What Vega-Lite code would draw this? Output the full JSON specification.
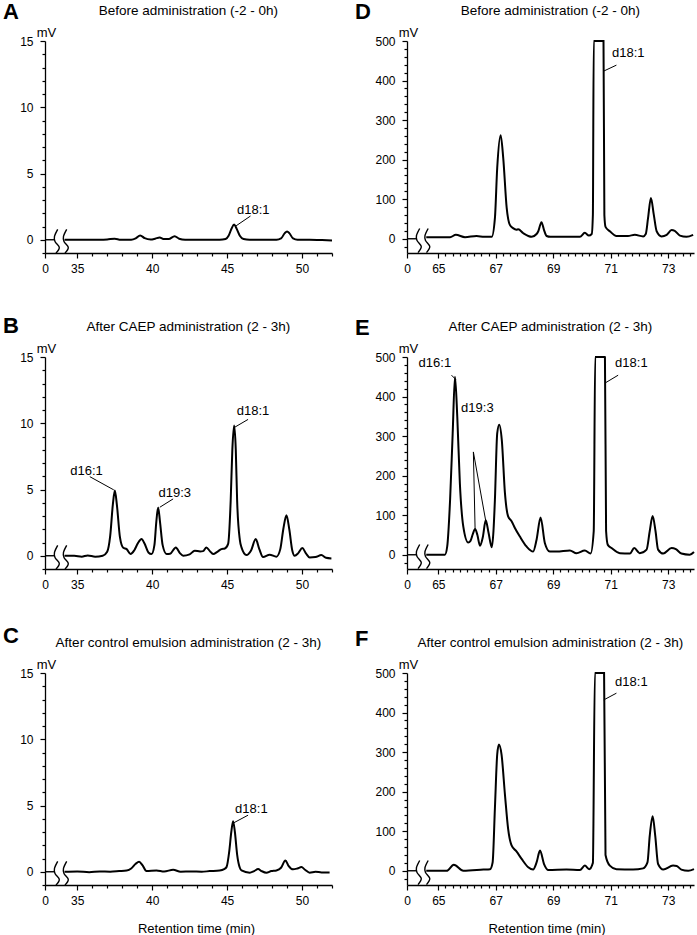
{
"$schema": "https://vega.github.io/schema/vega-lite/v6.json",
"autosize": {"type": "pad"},
"padding": {"left": 3, "top": 0, "right": 0, "bottom": 0},
"background": "white",
"columns": 2,
"spacing": {"row": 104, "column": 75},
"bounds": "flush",
"datasets": {
"A": [{"t":34.15,"mv":0},{"t":35.5,"mv":0},{"t":36.5,"mv":0},{"t":37.0,"mv":0.02},{"t":37.5,"mv":0.08},{"t":37.9,"mv":0.0},{"t":38.6,"mv":0.0},{"t":38.9,"mv":0.1},{"t":39.2,"mv":0.33},{"t":39.5,"mv":0.12},{"t":39.9,"mv":0.02},{"t":40.2,"mv":0.08},{"t":40.5,"mv":0.17},{"t":40.8,"mv":0.05},{"t":41.1,"mv":0.05},{"t":41.5,"mv":0.27},{"t":41.8,"mv":0.08},{"t":42.2,"mv":0.0},{"t":43.5,"mv":0.0},{"t":44.5,"mv":0.0},{"t":44.9,"mv":0.05},{"t":45.1,"mv":0.3},{"t":45.3,"mv":0.85},{"t":45.47,"mv":1.15},{"t":45.65,"mv":0.8},{"t":45.85,"mv":0.3},{"t":46.1,"mv":0.05},{"t":46.5,"mv":0.0},{"t":47.5,"mv":0.0},{"t":48.3,"mv":0.0},{"t":48.6,"mv":0.1},{"t":48.85,"mv":0.5},{"t":49.0,"mv":0.62},{"t":49.15,"mv":0.5},{"t":49.4,"mv":0.1},{"t":49.7,"mv":0.0},{"t":50.5,"mv":0.0},{"t":51.2,"mv":-0.02},{"t":52,"mv":-0.05}],
"B": [{"t":34.15,"mv":0},{"t":34.8,"mv":0},{"t":35.3,"mv":-0.07},{"t":35.7,"mv":0.02},{"t":36.2,"mv":-0.07},{"t":36.7,"mv":0},{"t":37.0,"mv":0.3},{"t":37.2,"mv":1.5},{"t":37.38,"mv":3.9},{"t":37.51,"mv":4.92},{"t":37.65,"mv":3.8},{"t":37.85,"mv":1.4},{"t":38.07,"mv":0.6},{"t":38.3,"mv":0.5},{"t":38.56,"mv":0.13},{"t":38.8,"mv":0.4},{"t":39.05,"mv":0.95},{"t":39.29,"mv":1.26},{"t":39.5,"mv":0.9},{"t":39.75,"mv":0.25},{"t":39.96,"mv":0.13},{"t":40.15,"mv":0.8},{"t":40.28,"mv":2.6},{"t":40.4,"mv":3.65},{"t":40.52,"mv":2.6},{"t":40.7,"mv":0.8},{"t":40.96,"mv":0.13},{"t":41.2,"mv":0.15},{"t":41.58,"mv":0.63},{"t":41.85,"mv":0.2},{"t":42.07,"mv":0},{"t":42.5,"mv":0.1},{"t":42.84,"mv":0.38},{"t":43.2,"mv":0.33},{"t":43.4,"mv":0.35},{"t":43.62,"mv":0.63},{"t":43.85,"mv":0.35},{"t":44.07,"mv":0.13},{"t":44.35,"mv":0.3},{"t":44.62,"mv":0.5},{"t":44.85,"mv":0.55},{"t":45.07,"mv":0.9},{"t":45.24,"mv":4.16},{"t":45.35,"mv":8.0},{"t":45.47,"mv":9.83},{"t":45.58,"mv":8.0},{"t":45.67,"mv":4.16},{"t":45.85,"mv":1.2},{"t":45.96,"mv":0.63},{"t":46.29,"mv":0.05},{"t":46.6,"mv":0.4},{"t":46.91,"mv":1.26},{"t":47.15,"mv":0.5},{"t":47.4,"mv":-0.1},{"t":47.84,"mv":0.08},{"t":48.29,"mv":-0.07},{"t":48.55,"mv":0.5},{"t":48.75,"mv":2.0},{"t":48.96,"mv":3.05},{"t":49.15,"mv":2.0},{"t":49.35,"mv":0.4},{"t":49.51,"mv":0.0},{"t":49.75,"mv":0.2},{"t":50.02,"mv":0.58},{"t":50.25,"mv":0.2},{"t":50.51,"mv":-0.13},{"t":50.9,"mv":-0.1},{"t":51.29,"mv":0.05},{"t":51.6,"mv":-0.15},{"t":51.96,"mv":-0.2}],
"C": [{"t":34.15,"mv":0},{"t":35.0,"mv":0.02},{"t":35.8,"mv":-0.03},{"t":36.5,"mv":0.02},{"t":37.2,"mv":0.0},{"t":37.8,"mv":0.05},{"t":38.3,"mv":0.1},{"t":38.6,"mv":0.25},{"t":38.9,"mv":0.6},{"t":39.13,"mv":0.75},{"t":39.35,"mv":0.5},{"t":39.62,"mv":0.05},{"t":40.29,"mv":0.1},{"t":40.8,"mv":0.02},{"t":41.4,"mv":0.15},{"t":41.9,"mv":0.0},{"t":42.6,"mv":0.02},{"t":43.3,"mv":0.0},{"t":43.84,"mv":0.05},{"t":44.5,"mv":0.1},{"t":44.8,"mv":0.2},{"t":44.96,"mv":0.35},{"t":45.15,"mv":1.6},{"t":45.28,"mv":3.0},{"t":45.4,"mv":3.82},{"t":45.52,"mv":3.0},{"t":45.67,"mv":1.3},{"t":45.85,"mv":0.3},{"t":45.96,"mv":0.1},{"t":46.51,"mv":-0.07},{"t":46.8,"mv":0.05},{"t":47.07,"mv":0.2},{"t":47.3,"mv":0.05},{"t":47.62,"mv":-0.07},{"t":47.95,"mv":0.05},{"t":48.29,"mv":0.1},{"t":48.6,"mv":0.3},{"t":48.89,"mv":0.85},{"t":49.1,"mv":0.45},{"t":49.4,"mv":0.18},{"t":49.7,"mv":0.25},{"t":49.96,"mv":0.35},{"t":50.2,"mv":0.15},{"t":50.51,"mv":-0.07},{"t":50.9,"mv":0.0},{"t":51.3,"mv":-0.05},{"t":51.84,"mv":-0.05}],
"D": [{"t":64.58,"mv":4},{"t":65.41,"mv":4},{"t":65.61,"mv":10},{"t":65.93,"mv":4},{"t":66.33,"mv":7},{"t":66.6,"mv":5},{"t":66.86,"mv":5},{"t":66.97,"mv":52},{"t":67.05,"mv":179},{"t":67.17,"mv":262},{"t":67.26,"mv":204},{"t":67.38,"mv":78},{"t":67.49,"mv":35},{"t":67.6,"mv":27},{"t":67.72,"mv":23},{"t":67.78,"mv":24},{"t":67.96,"mv":14},{"t":68.25,"mv":5},{"t":68.42,"mv":12},{"t":68.48,"mv":19},{"t":68.59,"mv":42},{"t":68.68,"mv":22},{"t":68.77,"mv":7},{"t":68.9,"mv":5},{"t":69.3,"mv":5},{"t":69.93,"mv":5},{"t":70.1,"mv":15},{"t":70.24,"mv":8},{"t":70.34,"mv":12},{"t":70.38,"mv":60},{"t":70.41,"mv":500},{"t":70.75,"mv":500},{"t":70.78,"mv":60},{"t":70.82,"mv":30},{"t":70.97,"mv":19},{"t":71.2,"mv":7},{"t":71.6,"mv":7},{"t":71.84,"mv":10},{"t":72.13,"mv":6},{"t":72.22,"mv":12},{"t":72.3,"mv":52},{"t":72.4,"mv":103},{"t":72.5,"mv":61},{"t":72.6,"mv":19},{"t":72.77,"mv":6},{"t":72.95,"mv":10},{"t":73.12,"mv":22},{"t":73.23,"mv":20},{"t":73.41,"mv":8},{"t":73.64,"mv":5},{"t":73.87,"mv":10}],
"E": [{"t":64.58,"mv":0},{"t":65.23,"mv":0},{"t":65.31,"mv":21},{"t":65.41,"mv":139},{"t":65.5,"mv":307},{"t":65.58,"mv":450},{"t":65.66,"mv":349},{"t":65.75,"mv":181},{"t":65.87,"mv":71},{"t":66.04,"mv":31},{"t":66.12,"mv":35},{"t":66.2,"mv":52},{"t":66.28,"mv":65},{"t":66.36,"mv":50},{"t":66.45,"mv":23},{"t":66.55,"mv":45},{"t":66.65,"mv":87},{"t":66.75,"mv":55},{"t":66.86,"mv":19},{"t":66.92,"mv":60},{"t":66.97,"mv":139},{"t":67.05,"mv":307},{"t":67.12,"mv":329},{"t":67.21,"mv":290},{"t":67.32,"mv":155},{"t":67.43,"mv":97},{"t":67.55,"mv":85},{"t":67.67,"mv":67},{"t":67.84,"mv":46},{"t":68.07,"mv":21},{"t":68.3,"mv":8},{"t":68.42,"mv":38},{"t":68.56,"mv":94},{"t":68.71,"mv":29},{"t":68.88,"mv":8},{"t":69.12,"mv":8},{"t":69.58,"mv":11},{"t":69.81,"mv":4},{"t":70.1,"mv":11},{"t":70.3,"mv":3},{"t":70.41,"mv":60},{"t":70.46,"mv":500},{"t":70.8,"mv":500},{"t":70.84,"mv":60},{"t":70.9,"mv":25},{"t":71.03,"mv":17},{"t":71.32,"mv":4},{"t":71.67,"mv":3},{"t":71.82,"mv":17},{"t":72.01,"mv":4},{"t":72.25,"mv":13},{"t":72.36,"mv":60},{"t":72.46,"mv":98},{"t":72.56,"mv":60},{"t":72.65,"mv":13},{"t":72.83,"mv":3},{"t":73.12,"mv":17},{"t":73.27,"mv":14},{"t":73.46,"mv":3},{"t":73.75,"mv":0},{"t":73.9,"mv":7}],
"F": [{"t":64.58,"mv":0},{"t":65.29,"mv":0},{"t":65.54,"mv":15},{"t":65.87,"mv":0},{"t":66.57,"mv":3},{"t":66.8,"mv":4},{"t":66.89,"mv":21},{"t":66.97,"mv":158},{"t":67.05,"mv":294},{"t":67.11,"mv":319},{"t":67.2,"mv":294},{"t":67.32,"mv":192},{"t":67.43,"mv":106},{"t":67.55,"mv":64},{"t":67.72,"mv":49},{"t":67.9,"mv":30},{"t":68.13,"mv":9},{"t":68.3,"mv":3},{"t":68.42,"mv":21},{"t":68.54,"mv":51},{"t":68.68,"mv":17},{"t":68.83,"mv":2},{"t":69.46,"mv":3},{"t":69.93,"mv":2},{"t":70.1,"mv":13},{"t":70.25,"mv":4},{"t":70.38,"mv":20},{"t":70.45,"mv":500},{"t":70.77,"mv":500},{"t":70.82,"mv":40},{"t":70.97,"mv":13},{"t":71.2,"mv":4},{"t":71.78,"mv":3},{"t":72.13,"mv":6},{"t":72.28,"mv":21},{"t":72.36,"mv":89},{"t":72.46,"mv":138},{"t":72.55,"mv":89},{"t":72.65,"mv":17},{"t":72.83,"mv":3},{"t":73.17,"mv":13},{"t":73.3,"mv":12},{"t":73.46,"mv":3},{"t":73.7,"mv":0},{"t":73.9,"mv":4}],
"breakL": [{"part":"base","t":32.85,"mv":0},{"part":"base","t":33.52,"mv":0},{"part":"c1","t":33.697,"mv":0.78},{"part":"c1","t":33.483,"mv":0.25},{"part":"c1","t":33.517,"mv":-0.13},{"part":"c1","t":33.803,"mv":-0.58},{"part":"c1","t":33.583,"mv":-1.0},{"part":"c2","t":34.297,"mv":0.78},{"part":"c2","t":34.083,"mv":0.25},{"part":"c2","t":34.117,"mv":-0.13},{"part":"c2","t":34.403,"mv":-0.58},{"part":"c2","t":34.183,"mv":-1.0}],
"breakR": [{"part":"base","t":63.91,"mv":0},{"part":"base","t":64.26,"mv":0},{"part":"c1","t":64.352,"mv":26},{"part":"c1","t":64.24,"mv":8.3},{"part":"c1","t":64.258,"mv":-4.3},{"part":"c1","t":64.407,"mv":-19.5},{"part":"c1","t":64.293,"mv":-35},{"part":"c2","t":64.647,"mv":26},{"part":"c2","t":64.536,"mv":8.3},{"part":"c2","t":64.554,"mv":-4.3},{"part":"c2","t":64.703,"mv":-19.5},{"part":"c2","t":64.589,"mv":-35}]
},
"concat": [
{"width": 287, "height": 212, "resolve": {"axis": {"x": "independent", "y": "independent"}}, "layer": [
 {"data": {"name": "A"}, "mark": {"type": "line", "interpolate": "monotone", "color": "#000", "strokeWidth": 2},
  "encoding": {"x": {"field": "t", "type": "quantitative", "scale": {"domain": [32.85, 52], "nice": false, "zero": false}, "axis": {"orient": "bottom", "values": [32.85,35,40,45,50], "labelExpr": "datum.value < 34 ? '0' : datum.label", "tickSize": 5, "labelOverlap": false, "title": null}},
   "y": {"field": "mv", "type": "quantitative", "scale": {"domain": [-1, 15], "nice": false, "zero": false}, "axis": {"orient": "left", "values": [0,5,10,15], "tickSize": 5, "labelOverlap": false, "title": "mV"}}}},
 {"data": {"name": "breakL"}, "mark": {"type": "line", "interpolate": "cardinal", "color": "#000", "strokeWidth": 1.4},
  "encoding": {"x": {"field": "t", "type": "quantitative", "axis": {"orient": "bottom", "values": [36,37,38,39,41,42,43,44,46,47,48,49,51,52], "labels": false, "domain": false, "tickSize": 3, "title": null}}, "y": {"field": "mv", "type": "quantitative", "axis": {"orient": "left", "values": [-1,1,2,3,4,6,7,8,9,11,12,13,14], "labels": false, "domain": false, "tickSize": 3, "title": null}}, "detail": {"field": "part"}, "order": {"value": null}}},
 {"data": {"values": [{"t": 45.6, "mv": 1.05, "t2": 46.56, "mv2": 1.79}]}, "mark": {"type": "rule", "color": "#000", "strokeWidth": 1},
  "encoding": {"x": {"field": "t", "type": "quantitative", "axis": null}, "y": {"field": "mv", "type": "quantitative", "axis": null}, "x2": {"field": "t2"}, "y2": {"field": "mv2"}}},
 {"data": {"values": [{"t": 46.75, "mv": 1.92, "label": "d18:1"}]}, "mark": {"type": "text"},
  "encoding": {"x": {"field": "t", "type": "quantitative", "axis": null}, "y": {"field": "mv", "type": "quantitative", "axis": null}, "text": {"field": "label"}}},
 {"data": {"values": [{}]}, "mark": {"type": "text", "fontSize": 22, "fontWeight": "bold", "align": "left", "baseline": "top"},
  "encoding": {"x": {"datum": 30.05, "type": "quantitative", "axis": null}, "y": {"datum": 17.97, "type": "quantitative", "axis": null}, "text": {"value": "A"}}},
 {"data": {"values": [{}]}, "mark": {"type": "text", "fontSize": 13.5},
  "encoding": {"x": {"datum": 42.42, "type": "quantitative", "axis": null}, "y": {"datum": 16.96, "type": "quantitative", "axis": null}, "text": {"value": "Before administration (-2 - 0h)"}}}
]},
{"width": 287, "height": 212, "resolve": {"axis": {"x": "independent", "y": "independent"}}, "layer": [
 {"data": {"name": "D"}, "mark": {"type": "line", "interpolate": "monotone", "color": "#000", "strokeWidth": 2},
  "encoding": {"x": {"field": "t", "type": "quantitative", "scale": {"domain": [63.91, 73.9], "nice": false, "zero": false}, "axis": {"orient": "bottom", "values": [63.91,65,67,69,71,73], "labelExpr": "datum.value < 64.5 ? '0' : datum.label", "tickSize": 5, "labelOverlap": false, "title": null}},
   "y": {"field": "mv", "type": "quantitative", "scale": {"domain": [-36, 500], "nice": false, "zero": false}, "axis": {"orient": "left", "values": [0,100,200,300,400,500], "tickSize": 5, "labelOverlap": false, "title": "mV"}}}},
 {"data": {"name": "breakR"}, "mark": {"type": "line", "interpolate": "cardinal", "color": "#000", "strokeWidth": 1.4},
  "encoding": {"x": {"field": "t", "type": "quantitative", "axis": {"orient": "bottom", "values": [65.25,65.5,65.75,66,66.25,66.5,66.75,67.25,67.5,67.75,68,68.25,68.5,68.75,69.25,69.5,69.75,70,70.25,70.5,70.75,71.25,71.5,71.75,72,72.25,72.5,72.75,73.25,73.5,73.75], "labels": false, "domain": false, "tickSize": 3, "title": null}}, "y": {"field": "mv", "type": "quantitative", "axis": {"orient": "left", "values": [-20,20,40,60,80,120,140,160,180,220,240,260,280,320,340,360,380,420,440,460,480], "labels": false, "domain": false, "tickSize": 3, "title": null}}, "detail": {"field": "part"}, "order": {"value": null}}},
 {"data": {"values": [{"t": 70.76, "mv": 424, "t2": 71.2, "mv2": 439}]}, "mark": {"type": "rule", "color": "#000", "strokeWidth": 1},
  "encoding": {"x": {"field": "t", "type": "quantitative", "axis": null}, "y": {"field": "mv", "type": "quantitative", "axis": null}, "x2": {"field": "t2"}, "y2": {"field": "mv2"}}},
 {"data": {"values": [{"t": 71.61, "mv": 459, "label": "d18:1"}]}, "mark": {"type": "text"},
  "encoding": {"x": {"field": "t", "type": "quantitative", "axis": null}, "y": {"field": "mv", "type": "quantitative", "axis": null}, "text": {"field": "label"}}},
 {"data": {"values": [{}]}, "mark": {"type": "text", "fontSize": 22, "fontWeight": "bold", "align": "left", "baseline": "top"},
  "encoding": {"x": {"datum": 62.1, "type": "quantitative", "axis": null}, "y": {"datum": 599.6, "type": "quantitative", "axis": null}, "text": {"value": "D"}}},
 {"data": {"values": [{}]}, "mark": {"type": "text", "fontSize": 13.5},
  "encoding": {"x": {"datum": 68.9, "type": "quantitative", "axis": null}, "y": {"datum": 565.7, "type": "quantitative", "axis": null}, "text": {"value": "Before administration (-2 - 0h)"}}}
]},
{"width": 287, "height": 212, "resolve": {"axis": {"x": "independent", "y": "independent"}}, "layer": [
 {"data": {"name": "B"}, "mark": {"type": "line", "interpolate": "monotone", "color": "#000", "strokeWidth": 2},
  "encoding": {"x": {"field": "t", "type": "quantitative", "scale": {"domain": [32.85, 52], "nice": false, "zero": false}, "axis": {"orient": "bottom", "values": [32.85,35,40,45,50], "labelExpr": "datum.value < 34 ? '0' : datum.label", "tickSize": 5, "labelOverlap": false, "title": null}},
   "y": {"field": "mv", "type": "quantitative", "scale": {"domain": [-1, 15], "nice": false, "zero": false}, "axis": {"orient": "left", "values": [0,5,10,15], "tickSize": 5, "labelOverlap": false, "title": "mV"}}}},
 {"data": {"name": "breakL"}, "mark": {"type": "line", "interpolate": "cardinal", "color": "#000", "strokeWidth": 1.4},
  "encoding": {"x": {"field": "t", "type": "quantitative", "axis": {"orient": "bottom", "values": [36,37,38,39,41,42,43,44,46,47,48,49,51,52], "labels": false, "domain": false, "tickSize": 3, "title": null}}, "y": {"field": "mv", "type": "quantitative", "axis": {"orient": "left", "values": [-1,1,2,3,4,6,7,8,9,11,12,13,14], "labels": false, "domain": false, "tickSize": 3, "title": null}}, "detail": {"field": "part"}, "order": {"value": null}}},
 {"data": {"values": [{"t": 35.84, "mv": 5.97, "t2": 37.44, "mv2": 4.97}, {"t": 40.51, "mv": 3.66, "t2": 41.4, "mv2": 4.29}, {"t": 45.51, "mv": 9.7, "t2": 46.4, "mv2": 10.29}]}, "mark": {"type": "rule", "color": "#000", "strokeWidth": 1},
  "encoding": {"x": {"field": "t", "type": "quantitative", "axis": null}, "y": {"field": "mv", "type": "quantitative", "axis": null}, "x2": {"field": "t2"}, "y2": {"field": "mv2"}}},
 {"data": {"values": [{"t": 35.62, "mv": 6.1, "label": "d16:1"}, {"t": 41.51, "mv": 4.45, "label": "d19:3"}, {"t": 46.73, "mv": 10.6, "label": "d18:1"}]}, "mark": {"type": "text"},
  "encoding": {"x": {"field": "t", "type": "quantitative", "axis": null}, "y": {"field": "mv", "type": "quantitative", "axis": null}, "text": {"field": "label"}}},
 {"data": {"values": [{}]}, "mark": {"type": "text", "fontSize": 22, "fontWeight": "bold", "align": "left", "baseline": "top"},
  "encoding": {"x": {"datum": 30.05, "type": "quantitative", "axis": null}, "y": {"datum": 18.12, "type": "quantitative", "axis": null}, "text": {"value": "B"}}},
 {"data": {"values": [{}]}, "mark": {"type": "text", "fontSize": 13.5},
  "encoding": {"x": {"datum": 42.42, "type": "quantitative", "axis": null}, "y": {"datum": 16.96, "type": "quantitative", "axis": null}, "text": {"value": "After CAEP administration (2 - 3h)"}}}
]},
{"width": 287, "height": 212, "resolve": {"axis": {"x": "independent", "y": "independent"}}, "layer": [
 {"data": {"name": "E"}, "mark": {"type": "line", "interpolate": "monotone", "color": "#000", "strokeWidth": 2},
  "encoding": {"x": {"field": "t", "type": "quantitative", "scale": {"domain": [63.91, 73.9], "nice": false, "zero": false}, "axis": {"orient": "bottom", "values": [63.91,65,67,69,71,73], "labelExpr": "datum.value < 64.5 ? '0' : datum.label", "tickSize": 5, "labelOverlap": false, "title": null}},
   "y": {"field": "mv", "type": "quantitative", "scale": {"domain": [-36, 500], "nice": false, "zero": false}, "axis": {"orient": "left", "values": [0,100,200,300,400,500], "tickSize": 5, "labelOverlap": false, "title": "mV"}}}},
 {"data": {"name": "breakR"}, "mark": {"type": "line", "interpolate": "cardinal", "color": "#000", "strokeWidth": 1.4},
  "encoding": {"x": {"field": "t", "type": "quantitative", "axis": {"orient": "bottom", "values": [65.25,65.5,65.75,66,66.25,66.5,66.75,67.25,67.5,67.75,68,68.25,68.5,68.75,69.25,69.5,69.75,70,70.25,70.5,70.75,71.25,71.5,71.75,72,72.25,72.5,72.75,73.25,73.5,73.75], "labels": false, "domain": false, "tickSize": 3, "title": null}}, "y": {"field": "mv", "type": "quantitative", "axis": {"orient": "left", "values": [-20,20,40,60,80,120,140,160,180,220,240,260,280,320,340,360,380,420,440,460,480], "labels": false, "domain": false, "tickSize": 3, "title": null}}, "detail": {"field": "part"}, "order": {"value": null}}},
 {"data": {"values": [{"t": 65.46, "mv": 454, "t2": 65.61, "mv2": 443}, {"t": 66.22, "mv": 260, "t2": 66.28, "mv2": 66}, {"t": 66.22, "mv": 260, "t2": 66.65, "mv2": 86}, {"t": 70.8, "mv": 434, "t2": 71.26, "mv2": 454}]}, "mark": {"type": "rule", "color": "#000", "strokeWidth": 1},
  "encoding": {"x": {"field": "t", "type": "quantitative", "axis": null}, "y": {"field": "mv", "type": "quantitative", "axis": null}, "x2": {"field": "t2"}, "y2": {"field": "mv2"}}},
 {"data": {"values": [{"t": 64.88, "mv": 475, "label": "d16:1"}, {"t": 66.36, "mv": 362, "label": "d19:3"}, {"t": 71.72, "mv": 475, "label": "d18:1"}]}, "mark": {"type": "text"},
  "encoding": {"x": {"field": "t", "type": "quantitative", "axis": null}, "y": {"field": "mv", "type": "quantitative", "axis": null}, "text": {"field": "label"}}},
 {"data": {"values": [{}]}, "mark": {"type": "text", "fontSize": 22, "fontWeight": "bold", "align": "left", "baseline": "top"},
  "encoding": {"x": {"datum": 62.1, "type": "quantitative", "axis": null}, "y": {"datum": 599.6, "type": "quantitative", "axis": null}, "text": {"value": "E"}}},
 {"data": {"values": [{}]}, "mark": {"type": "text", "fontSize": 13.5},
  "encoding": {"x": {"datum": 68.9, "type": "quantitative", "axis": null}, "y": {"datum": 565.7, "type": "quantitative", "axis": null}, "text": {"value": "After CAEP administration (2 - 3h)"}}}
]},
{"width": 287, "height": 212, "resolve": {"axis": {"x": "independent", "y": "independent"}}, "layer": [
 {"data": {"name": "C"}, "mark": {"type": "line", "interpolate": "monotone", "color": "#000", "strokeWidth": 2},
  "encoding": {"x": {"field": "t", "type": "quantitative", "scale": {"domain": [32.85, 52], "nice": false, "zero": false}, "axis": {"orient": "bottom", "values": [32.85,35,40,45,50], "labelExpr": "datum.value < 34 ? '0' : datum.label", "tickSize": 5, "labelOverlap": false, "title": "Retention time  (min)", "titlePadding": 16, "titleX": 151}},
   "y": {"field": "mv", "type": "quantitative", "scale": {"domain": [-1, 15], "nice": false, "zero": false}, "axis": {"orient": "left", "values": [0,5,10,15], "tickSize": 5, "labelOverlap": false, "title": "mV"}}}},
 {"data": {"name": "breakL"}, "mark": {"type": "line", "interpolate": "cardinal", "color": "#000", "strokeWidth": 1.4},
  "encoding": {"x": {"field": "t", "type": "quantitative", "axis": {"orient": "bottom", "values": [36,37,38,39,41,42,43,44,46,47,48,49,51,52], "labels": false, "domain": false, "tickSize": 3, "title": null}}, "y": {"field": "mv", "type": "quantitative", "axis": {"orient": "left", "values": [-1,1,2,3,4,6,7,8,9,11,12,13,14], "labels": false, "domain": false, "tickSize": 3, "title": null}}, "detail": {"field": "part"}, "order": {"value": null}}},
 {"data": {"values": [{"t": 45.44, "mv": 3.69, "t2": 46.4, "mv2": 4.27}]}, "mark": {"type": "rule", "color": "#000", "strokeWidth": 1},
  "encoding": {"x": {"field": "t", "type": "quantitative", "axis": null}, "y": {"field": "mv", "type": "quantitative", "axis": null}, "x2": {"field": "t2"}, "y2": {"field": "mv2"}}},
 {"data": {"values": [{"t": 46.62, "mv": 4.4, "label": "d18:1"}]}, "mark": {"type": "text"},
  "encoding": {"x": {"field": "t", "type": "quantitative", "axis": null}, "y": {"field": "mv", "type": "quantitative", "axis": null}, "text": {"field": "label"}}},
 {"data": {"values": [{}]}, "mark": {"type": "text", "fontSize": 22, "fontWeight": "bold", "align": "left", "baseline": "top"},
  "encoding": {"x": {"datum": 30.05, "type": "quantitative", "axis": null}, "y": {"datum": 18.58, "type": "quantitative", "axis": null}, "text": {"value": "C"}}},
 {"data": {"values": [{}]}, "mark": {"type": "text", "fontSize": 13.5},
  "encoding": {"x": {"datum": 42.42, "type": "quantitative", "axis": null}, "y": {"datum": 16.96, "type": "quantitative", "axis": null}, "text": {"value": "After control emulsion administration (2 - 3h)"}}}
]},
{"width": 287, "height": 212, "resolve": {"axis": {"x": "independent", "y": "independent"}}, "layer": [
 {"data": {"name": "F"}, "mark": {"type": "line", "interpolate": "monotone", "color": "#000", "strokeWidth": 2},
  "encoding": {"x": {"field": "t", "type": "quantitative", "scale": {"domain": [63.91, 73.9], "nice": false, "zero": false}, "axis": {"orient": "bottom", "values": [63.91,65,67,69,71,73], "labelExpr": "datum.value < 64.5 ? '0' : datum.label", "tickSize": 5, "labelOverlap": false, "title": "Retention time  (min)", "titlePadding": 16, "titleX": 139.5}},
   "y": {"field": "mv", "type": "quantitative", "scale": {"domain": [-36, 500], "nice": false, "zero": false}, "axis": {"orient": "left", "values": [0,100,200,300,400,500], "tickSize": 5, "labelOverlap": false, "title": "mV"}}}},
 {"data": {"name": "breakR"}, "mark": {"type": "line", "interpolate": "cardinal", "color": "#000", "strokeWidth": 1.4},
  "encoding": {"x": {"field": "t", "type": "quantitative", "axis": {"orient": "bottom", "values": [65.25,65.5,65.75,66,66.25,66.5,66.75,67.25,67.5,67.75,68,68.25,68.5,68.75,69.25,69.5,69.75,70,70.25,70.5,70.75,71.25,71.5,71.75,72,72.25,72.5,72.75,73.25,73.5,73.75], "labels": false, "domain": false, "tickSize": 3, "title": null}}, "y": {"field": "mv", "type": "quantitative", "axis": {"orient": "left", "values": [-20,20,40,60,80,120,140,160,180,220,240,260,280,320,340,360,380,420,440,460,480], "labels": false, "domain": false, "tickSize": 3, "title": null}}, "detail": {"field": "part"}, "order": {"value": null}}},
 {"data": {"values": [{"t": 70.76, "mv": 432, "t2": 71.2, "mv2": 449}]}, "mark": {"type": "rule", "color": "#000", "strokeWidth": 1},
  "encoding": {"x": {"field": "t", "type": "quantitative", "axis": null}, "y": {"field": "mv", "type": "quantitative", "axis": null}, "x2": {"field": "t2"}, "y2": {"field": "mv2"}}},
 {"data": {"values": [{"t": 71.72, "mv": 468, "label": "d18:1"}]}, "mark": {"type": "text"},
  "encoding": {"x": {"field": "t", "type": "quantitative", "axis": null}, "y": {"field": "mv", "type": "quantitative", "axis": null}, "text": {"field": "label"}}},
 {"data": {"values": [{}]}, "mark": {"type": "text", "fontSize": 22, "fontWeight": "bold", "align": "left", "baseline": "top"},
  "encoding": {"x": {"datum": 62.1, "type": "quantitative", "axis": null}, "y": {"datum": 612.3, "type": "quantitative", "axis": null}, "text": {"value": "F"}}},
 {"data": {"values": [{}]}, "mark": {"type": "text", "fontSize": 13.5},
  "encoding": {"x": {"datum": 68.9, "type": "quantitative", "axis": null}, "y": {"datum": 565.7, "type": "quantitative", "axis": null}, "text": {"value": "After control emulsion administration (2 - 3h)"}}}
]}
],
"config": {
 "view": {"stroke": null},
 "font": "Liberation Sans",
 "axis": {"grid": false, "domainColor": "#000", "domainWidth": 1.3, "tickColor": "#000", "tickWidth": 1.2, "labelColor": "#000", "labelFont": "Liberation Sans", "labelFontSize": 12, "titleFont": "Liberation Sans", "titleFontSize": 13, "titleFontWeight": "normal", "titleColor": "#000", "labelOverlap": false, "labelFlush": false},
 "axisY": {"labelPadding": 7, "titleAngle": 0, "titleAlign": "center", "titleBaseline": "alphabetic", "titleX": 1, "titleY": -5},
 "axisX": {"labelPadding": 5, "titlePadding": 8},
 "text": {"font": "Liberation Sans", "fontSize": 13, "color": "#000", "baseline": "alphabetic", "align": "center"}
}
}
